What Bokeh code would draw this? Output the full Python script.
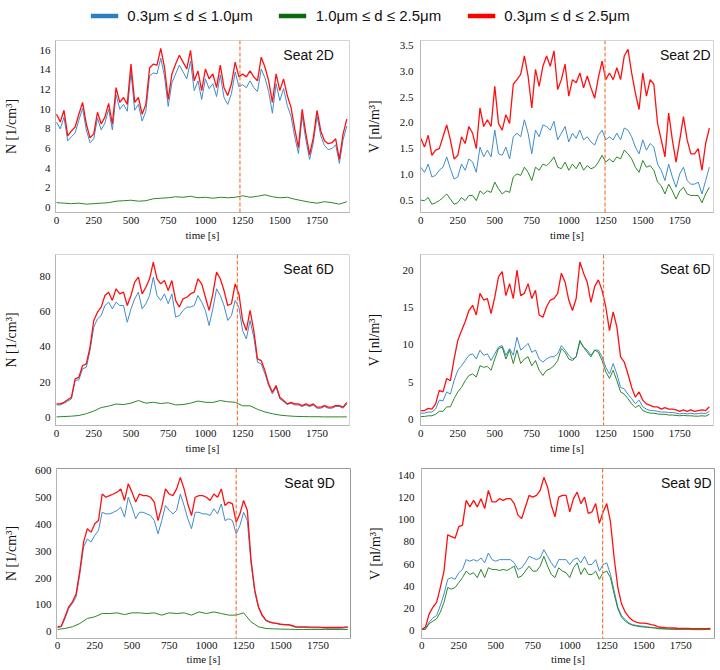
from bokeh.plotting import figure
from bokeh.models import FixedTicker, Span, Label, Legend, LegendItem, Range1d, PrintfTickFormatter
from bokeh.layouts import column, row
from bokeh.embed import file_html
from bokeh.resources import INLINE

# ---------------- data ----------------
time25 = list(range(0, 1951, 25))
time50 = list(range(0, 1951, 50))
x_ticks = [0, 250, 500, 750, 1000, 1250, 1500, 1750]
series_labels = ["0.3\u03bcm \u2264 d \u2264 1.0\u03bcm", "1.0\u03bcm \u2264 d \u2264 2.5\u03bcm", "0.3\u03bcm \u2264 d \u2264 2.5\u03bcm"]
seats = ["Seat 2D", "Seat 2D", "Seat 6D", "Seat 6D", "Seat 9D", "Seat 9D"]
door_times = [1232, 1245, 1215, 1235, 1200, 1222]

# Seat 2D, number concentration N [1/cm3]
n2d_red = [9.5, 8.7, 9.9, 7.3, 7.8, 8.2, 9.5, 10.7, 8.5, 7.1, 7.5, 9.7, 8.5, 9.2, 10.6, 8.5, 12.2, 10.7, 11.2, 10.5,
           14.6, 10.7, 11.2, 9.5, 10.5, 14.2, 14.6, 14.5, 16.2, 14.3, 11.0, 13.6, 14.6, 15.5, 14.8, 14.1, 16.0, 12.9, 13.9, 11.9,
           14.1, 13.1, 13.6, 12.2, 14.5, 12.2, 11.4, 12.6, 14.8, 13.3, 13.6, 13.3, 13.9, 13.3, 12.9, 15.3, 14.3, 12.9, 10.7, 13.6,
           11.9, 13.1, 11.4, 10.2, 8.0, 6.1, 10.0, 7.5, 5.4, 7.1, 9.9, 7.8, 6.8, 6.5, 6.6, 7.0, 4.9, 7.5, 9.0]
n2d_blue = [8.7, 8.0, 9.2, 6.8, 7.2, 7.6, 8.9, 10.1, 7.9, 6.6, 7.0, 9.1, 7.9, 8.6, 10.0, 7.9, 11.5, 10.0, 10.5, 9.8,
            13.8, 9.9, 10.5, 8.8, 9.8, 13.4, 13.7, 13.6, 15.2, 13.4, 10.3, 12.7, 13.6, 14.5, 13.8, 13.1, 14.9, 11.9, 12.9, 11.0,
            13.1, 12.1, 12.6, 11.3, 13.5, 11.2, 10.5, 11.6, 13.8, 12.3, 12.5, 12.2, 12.9, 12.2, 11.8, 14.1, 13.2, 11.8, 9.6, 12.6,
            10.9, 12.1, 10.4, 9.3, 7.2, 5.5, 9.3, 6.9, 4.9, 6.6, 9.3, 7.3, 6.3, 5.9, 6.0, 6.4, 4.5, 6.9, 8.3]
n2d_green = [0.5, 0.45, 0.4, 0.45, 0.35, 0.4, 0.45, 0.5, 0.65, 0.7, 0.75, 0.65, 0.7, 0.9, 0.95, 1.0, 1.1, 1.05, 1.15, 1.0,
             1.05, 0.95, 1.05, 1.0, 1.05, 1.2, 1.05, 1.15, 1.3, 1.1, 1.0, 1.05, 0.85, 0.7, 0.55, 0.45, 0.6, 0.5, 0.35, 0.6]

# Seat 2D, volume concentration V [nl/m3]
v2d_red = [1.7, 1.53, 1.76, 1.37, 1.47, 1.5, 1.73, 1.96, 1.67, 1.3, 1.37, 1.73, 1.6, 1.93, 1.8, 1.5, 2.29, 1.93, 2.06, 1.93,
           2.71, 1.99, 1.86, 2.16, 1.99, 2.75, 2.84, 2.94, 3.3, 2.91, 2.29, 3.04, 2.71, 3.1, 3.3, 3.1, 3.4, 2.65, 2.84, 3.14,
           2.52, 2.84, 2.78, 2.97, 2.68, 2.91, 2.68, 2.48, 2.88, 3.2, 2.84, 2.97, 2.84, 3.07, 2.84, 3.3, 3.43, 2.97, 2.58, 2.26,
           2.97, 2.52, 2.84, 2.75, 1.99, 1.67, 1.34, 2.19, 1.67, 1.24, 1.67, 2.12, 1.67, 1.4, 1.4, 1.5, 1.08, 1.6, 1.9]
v2d_blue = [1.14, 1.04, 1.2, 0.95, 0.98, 1.08, 1.14, 1.34, 1.11, 0.91, 0.95, 1.2, 1.08, 1.3, 1.24, 1.04, 1.53, 1.34, 1.47, 1.34,
            1.86, 1.4, 1.37, 1.53, 1.3, 1.73, 1.8, 1.73, 2.06, 1.8, 1.4, 1.86, 1.73, 1.96, 1.93, 1.86, 2.03, 1.67, 1.8, 1.93,
            1.63, 1.8, 1.7, 1.86, 1.67, 1.73, 1.63, 1.57, 1.76, 1.86, 1.67, 1.73, 1.67, 1.8, 1.67, 1.9, 1.86, 1.73, 1.53, 1.4,
            1.67, 1.47, 1.6, 1.53, 1.2, 1.08, 0.88, 1.2, 0.95, 0.75, 1.01, 1.14, 0.88, 0.81, 0.81, 0.85, 0.62, 0.88, 1.14]
v2d_green = [0.5, 0.49, 0.55, 0.42, 0.45, 0.49, 0.55, 0.62, 0.52, 0.42, 0.45, 0.55, 0.49, 0.59, 0.59, 0.49, 0.68, 0.62, 0.68, 0.65,
             0.85, 0.72, 0.62, 0.68, 0.65, 0.95, 1.01, 0.98, 1.14, 1.04, 0.88, 1.14, 1.08, 1.2, 1.17, 1.24, 1.34, 1.14, 1.11, 1.24,
             1.08, 1.2, 1.11, 1.24, 1.08, 1.17, 1.11, 1.14, 1.24, 1.37, 1.24, 1.3, 1.24, 1.34, 1.3, 1.47, 1.4, 1.3, 1.14, 1.04,
             1.27, 1.14, 1.17, 1.08, 0.85, 0.78, 0.62, 0.81, 0.68, 0.52, 0.68, 0.75, 0.62, 0.59, 0.59, 0.59, 0.45, 0.62, 0.75]

# Seat 6D
n6d_red = [7.6, 7.6, 8.5, 9.9, 11.4, 21.8, 22.7, 29.4, 30.3, 39.8, 55, 59.7, 62.6, 69.2, 71.1, 66.4, 73, 70.1, 71.1, 63.5,
           69.2, 76.8, 79.6, 70.1, 73.9, 78.7, 88.2, 78.7, 75.8, 77.7, 72, 77.7, 66.4, 62.6, 67.3, 68.2, 70.1, 71.1, 78.7, 75.8,
           68.2, 60.7, 70.1, 82.5, 78.7, 72, 63.5, 64.5, 75.8, 70.1, 55, 49.3, 60.7, 49.3, 33.2, 32.2, 26.5, 19, 14.2, 18,
           11.4, 9.5, 7.6, 8.5, 7.6, 7.6, 6.6, 7.6, 6.6, 7.6, 5.7, 5.7, 6.6, 5.7, 5.7, 6.6, 6.6, 5.7, 8.5]
n6d_blue = [7.0, 7.0, 8.0, 9.1, 10.4, 20.9, 21.2, 27.5, 28.4, 37.9, 51.2, 55.9, 57.8, 63.5, 65.4, 61.6, 65.4, 63.5, 63.5, 54,
            61.6, 67.3, 71.1, 61.6, 64.5, 69.2, 79.6, 69.2, 66.4, 70.1, 64.5, 70.1, 56.9, 57.8, 60.7, 62.6, 62.6, 63.5, 69.2, 65.4,
            60.7, 52.1, 61.6, 73, 69.2, 63.5, 55, 57.8, 66.4, 62.6, 49.3, 44.5, 55, 45.5, 31.3, 30.3, 24.6, 18, 13.3, 17.1,
            10.4, 8.9, 7.2, 8, 7, 7, 6.1, 7, 6.1, 6.8, 5.1, 5.1, 6.1, 5.1, 5.1, 6.1, 6.1, 5.1, 7.6]
n6d_green = [0.2, 0.4, 0.6, 1.0, 2.0, 3.5, 5.5, 6.3, 7.5, 7.2, 8.0, 9.5, 8.0, 8.5, 7.8, 8.2, 7.0, 7.2, 8.0, 9.2,
             8.5, 8.4, 9.5, 8.8, 8.5, 6.5, 6.5, 4.5, 3.0, 2.0, 1.2, 0.8, 0.5, 0.4, 0.3, 0.3, 0.2, 0.2, 0.2, 0.2]
v6d_red = [1.2, 1.2, 1.5, 1.4, 2.1, 3.9, 3.7, 5.5, 5.2, 8.1, 10.6, 11.9, 13.1, 14.6, 15.3, 14, 16.9, 16, 16.2, 14.2,
           16.4, 19.1, 19.8, 16.6, 18.2, 16.2, 20, 16.6, 16.9, 18.2, 16.2, 17.3, 14, 13.7, 15.1, 16, 16.2, 16.9, 19.6, 18.4,
           16, 14.6, 16.2, 21.1, 19.6, 18.4, 15.7, 17.8, 18.7, 17.3, 15.1, 11.9, 14.4, 12.4, 8.4, 7.7, 6.1, 4.3, 3, 3.7,
           2.6, 2.1, 1.9, 1.7, 1.7, 1.4, 1.6, 1.4, 1.4, 1.3, 1.1, 1.3, 1.1, 1.3, 1.1, 1.2, 1.3, 1.2, 1.7]
v6d_blue = [0.85, 0.85, 1.0, 1.0, 1.4, 2.6, 2.5, 3.7, 3.4, 5.2, 6.6, 7.2, 7.9, 8.6, 8.8, 8.1, 9.3, 8.6, 8.8, 7.9,
            8.8, 9.7, 9.9, 8.6, 9.5, 8.6, 11, 9.3, 9.7, 10.2, 9, 9.3, 8.1, 7.7, 8.1, 8.4, 8.4, 8.8, 9.9, 9.3,
            8.6, 8.1, 8.4, 10.4, 9.7, 9.3, 8.6, 9.3, 9.3, 8.4, 7, 6.1, 7.5, 6.1, 4.3, 4.1, 3.4, 2.8, 2.1, 2.6,
            1.7, 1.4, 1.2, 1.2, 1.1, 1.0, 1.0, 0.95, 0.95, 0.85, 0.75, 0.85, 0.75, 0.85, 0.75, 0.8, 0.85, 0.8, 1.1]
v6d_green = [0.4, 0.4, 0.5, 0.5, 0.7, 1.1, 1.1, 1.7, 1.7, 2.8, 3.7, 4.3, 5.2, 5.9, 6.1, 5.7, 7.2, 7, 7.1, 6.6,
             8.1, 9.5, 9.7, 8.1, 9.3, 7.5, 9.3, 7.5, 8.1, 8.4, 7.2, 7.9, 6.6, 5.9, 6.6, 6.8, 7.2, 7.9, 9.5, 9,
             8.1, 7.9, 8.4, 10.6, 9.7, 9, 8.4, 9.3, 9, 7.9, 6.4, 5.5, 6.6, 5.2, 3.7, 3.4, 2.8, 2.1, 1.6, 1.9,
             1.2, 1, 0.85, 0.85, 0.75, 0.7, 0.7, 0.6, 0.6, 0.55, 0.5, 0.55, 0.5, 0.5, 0.45, 0.45, 0.5, 0.45, 0.7]

# Seat 9D
n9d_red = [18.6, 21, 55.7, 92.8, 111, 142, 229, 334, 384, 371, 402, 414, 513, 501, 507, 513, 520, 532, 489, 551,
           520, 483, 513, 507, 507, 501, 483, 414, 464, 532, 513, 507, 532, 575, 532, 476, 433, 501, 507, 507,
           501, 489, 513, 501, 532, 470, 483, 476, 408, 439, 489, 452, 266, 155, 93, 62, 43, 37, 33, 31,
           28, 27, 27, 23.5, 18.6, 18.6, 18.6, 18, 17.3, 17.3, 17.3, 16.5, 16, 16, 16, 16, 16, 17, 18.6]
n9d_blue = [16, 18.6, 49.5, 86.6, 105, 130, 216, 315, 346, 334, 359, 377, 445, 439, 439, 445, 452, 464, 427, 501,
            464, 421, 445, 445, 439, 433, 414, 365, 414, 470, 452, 439, 452, 513, 470, 421, 384, 445, 445, 439,
            439, 433, 458, 439, 476, 414, 421, 414, 365, 396, 445, 414, 254, 148, 89, 58, 41, 35, 32, 30,
            27, 26, 25, 21, 17, 16.5, 16, 15.5, 15, 15, 15, 14.5, 13.6, 13.6, 13.6, 13.6, 13.6, 14.5, 16]
n9d_green = [8.7, 12.4, 18.6, 31, 49.5, 55.7, 68, 68, 70.5, 64, 70.5, 70.5, 68, 70.5, 62, 70.5, 68, 70.5, 62, 74,
             68, 74, 68, 62, 62, 70.5, 37, 18.6, 12.4, 11, 10, 9.5, 8.7, 8.7, 8.7, 8.7, 8.7, 8.7, 8.7, 8.7]
v9d_red = [0.9, 3, 14.9, 20.9, 25.3, 38.7, 53.6, 86.4, 84.9, 83.4, 93.8, 95.3, 117.7, 111.7, 117.7, 111.7, 119.2, 110.2, 126.6, 116.2,
           116.2, 119.2, 117.7, 119.2, 119.2, 114.7, 104.3, 101.3, 111.7, 122.1, 120.6, 122.1, 126.6, 138.5, 129.6, 113.2, 102.8, 120.6, 122.1, 122.1,
           107.2, 119.2, 125.1, 114.7, 120.6, 105.8, 107.2, 114.7, 96.8, 107.2, 114.7, 98.3, 65.5, 38.7, 23.8, 16.4, 11.9, 8.9, 7.4, 6.6,
           6.6, 6, 5.1, 4.5, 3, 2.7, 2.4, 2.2, 2.1, 1.9, 1.8, 1.8, 1.8, 1.6, 1.5, 1.5, 1.5, 1.6, 1.8]
v9d_blue = [0.6, 1.5, 7.4, 11.3, 13.4, 22.3, 32.8, 46.2, 47.7, 46.2, 52.1, 55.1, 64, 62.6, 64, 62.6, 65.5, 61.1, 70, 64,
            62.6, 64, 64, 64, 64, 61.1, 55.1, 56.6, 61.1, 67, 65.5, 64, 65.5, 73, 67, 61.1, 56.6, 64, 64, 64,
            59.6, 64, 65.5, 61.1, 67, 59.6, 59.6, 64, 53.6, 59.6, 61.1, 50.6, 35.7, 20.9, 13.4, 9.5, 6.6, 5.1, 4.5, 3.9,
            3.6, 3, 2.7, 2.4, 1.8, 1.6, 1.5, 1.3, 1.2, 1.2, 1.2, 1.2, 1.2, 1.0, 0.9, 0.9, 0.9, 1.0, 1.2]
v9d_green = [0.6, 0.9, 6, 8.3, 10.4, 16.4, 25.3, 38.7, 37.2, 38.7, 43.2, 47.7, 53.6, 50.6, 52.1, 47.7, 55.1, 47.7, 56.6, 55.1,
             55.1, 54.2, 55.1, 54.2, 56, 58.1, 47.7, 49.2, 53.6, 58.1, 53.6, 53.6, 58.1, 67, 58.1, 50.6, 47.7, 56.6, 53.6, 52.1,
             47.7, 56.6, 61.1, 50.6, 56.6, 50.6, 50.6, 53.6, 46.2, 52.1, 53.6, 47.7, 32.8, 19.4, 11.9, 8.3, 6, 4.5, 3.9, 3.3,
             3, 2.7, 2.4, 2.1, 1.5, 1.3, 1.2, 1.0, 0.9, 0.9, 0.9, 0.9, 0.9, 0.7, 0.6, 0.6, 0.6, 0.8, 0.9]

n_ticks_2d = [0, 2, 4, 6, 8, 10, 12, 14, 16]
v_ticks_2d = [0.5, 1.0, 1.5, 2.0, 2.5, 3.0, 3.5]
n_ticks_6d = [0, 20, 40, 60, 80]
v_ticks_6d = [0, 5, 10, 15, 20]
n_ticks_9d = [0, 100, 200, 300, 400, 500, 600]
v_ticks_9d = [0, 20, 40, 60, 80, 100, 120, 140]

# ---------------- style ----------------
BLUE = "#3f8ccc"
GREEN = "#2b872b"
RED = "#ff1010"
LEG_COLORS = ["#2f7dc0", "#0d6a0d", "#ff0000"]
SERIF = "Liberation Serif"
SANS = "Liberation Sans"

panels = [
    dict(red=n2d_red, blue=n2d_blue, green=n2d_green, gt=time50, yr=(-0.5, 17.0), ticks=n_ticks_2d, ylab="N [1/cm\u00b3]", fmt=None, lstand=18),
    dict(red=v2d_red, blue=v2d_blue, green=v2d_green, gt=time25, yr=(0.26, 3.6), ticks=v_ticks_2d, ylab="V [nl/m\u00b3]", fmt="%.1f", lstand=15),
    dict(red=n6d_red, blue=n6d_blue, green=n6d_green, gt=time50, yr=(-4.7, 92.5), ticks=n_ticks_6d, ylab="N [1/cm\u00b3]", fmt=None, lstand=18),
    dict(red=v6d_red, blue=v6d_blue, green=v6d_green, gt=time25, yr=(-0.8, 22.1), ticks=v_ticks_6d, ylab="V [nl/m\u00b3]", fmt=None, lstand=18),
    dict(red=n9d_red, blue=n9d_blue, green=n9d_green, gt=time50, yr=(-25, 608), ticks=n_ticks_9d, ylab="N [1/cm\u00b3]", fmt=None, lstand=13),
    dict(red=v9d_red, blue=v9d_blue, green=v9d_green, gt=time25, yr=(-7.4, 146.5), ticks=v_ticks_9d, ylab="V [nl/m\u00b3]", fmt=None, lstand=12),
]

row_frame_h = [172, 171, 170]
row_top = [10, 8, 8]
row_bottom = [34, 35, 30]


def make_panel(i):
    d = panels[i]
    col = i % 2
    r = i // 2
    left = col == 0
    xr = (-7, 1968) if left else (-2, 1978)
    p = figure(frame_width=294 if left else 293, frame_height=row_frame_h[r],
               x_range=Range1d(*xr), y_range=Range1d(*d["yr"]),
               output_backend="svg", toolbar_location=None,
               min_border_left=54 if left else 59, min_border_right=12 if left else 8,
               min_border_top=row_top[r], min_border_bottom=row_bottom[r])
    p.background_fill_color = "white"
    p.border_fill_color = "white"
    p.outline_line_color = "#d4d4d4" if r < 2 else "#9a9a9a"
    p.xgrid.visible = False
    p.ygrid.visible = False
    p.xaxis.ticker = FixedTicker(ticks=x_ticks)
    p.yaxis.ticker = FixedTicker(ticks=d["ticks"])
    if d["fmt"]:
        p.yaxis.formatter = PrintfTickFormatter(format=d["fmt"])
    p.xaxis.axis_label = "time [s]"
    p.yaxis.axis_label = d["ylab"]
    for ax in (p.xaxis[0], p.yaxis[0]):
        ax.major_tick_line_color = None
        ax.minor_tick_line_color = None
        ax.major_tick_out = 0
        ax.major_tick_in = 0
        ax.minor_tick_out = 0
        ax.minor_tick_in = 0
        ax.axis_line_color = "#b5b5b5"
        ax.major_label_text_font = SERIF
        ax.major_label_text_font_size = "11px"
        ax.major_label_text_color = "#111111"
        ax.axis_label_text_font = SERIF
        ax.axis_label_text_font_style = "normal"
        ax.axis_label_text_color = "#111111"
    p.xaxis.axis_label_text_font_size = "11px"
    p.yaxis.axis_label_text_font_size = "14px"
    p.xaxis.major_label_standoff = 4 if r < 2 else 3
    p.xaxis.axis_label_standoff = 2 if r < 2 else 1
    p.yaxis.major_label_standoff = 5 if left else 7
    p.yaxis.axis_label_standoff = d["lstand"]

    p.line(time25, d["blue"], line_color=BLUE, line_width=1.0)
    p.line(d["gt"], d["green"], line_color=GREEN, line_width=1.0)
    p.line(time25, d["red"], line_color=RED, line_width=1.3)

    p.add_layout(Span(location=door_times[i], dimension="height", line_color="#f27a3e",
                      line_dash="4 2", line_width=1.2))
    xs, xe = xr
    ys, ye = d["yr"]
    lx = xs + (0.947 if left else 0.99) * (xe - xs)
    ly = ye - 0.085 * (ye - ys)
    p.add_layout(Label(x=lx, y=ly, text=seats[i], text_align="right", text_baseline="middle",
                       text_font=SANS, text_font_size="14px", text_color="#111111"))
    return p


figs = [make_panel(i) for i in range(6)]

# legend strip
lf = figure(width=720, height=30, output_backend="svg", toolbar_location=None,
            x_axis_type=None, y_axis_type=None, x_range=Range1d(0, 1), y_range=Range1d(0, 1),
            min_border=0, min_border_left=0, min_border_right=0, min_border_top=0, min_border_bottom=0)
lf.outline_line_color = None
lf.xgrid.visible = False
lf.ygrid.visible = False
items = []
for lab, c in zip(series_labels, LEG_COLORS):
    rr = lf.line([5, 6], [5, 6], line_color=c, line_width=4.5)
    items.append(LegendItem(label=lab, renderers=[rr]))
leg = Legend(items=items, orientation="horizontal", location="center",
             glyph_width=28, glyph_height=12, label_standoff=9, spacing=26,
             label_text_font=SANS, label_text_font_size="15px",
             label_text_color="#111111", border_line_color=None, background_fill_alpha=0,
             padding=0, margin=0)
lf.add_layout(leg, "center")

layout = column(lf, row(figs[0], figs[1], spacing=0), row(figs[2], figs[3], spacing=0),
                row(figs[4], figs[5], spacing=0), spacing=0)

open("out.html", "w").write(file_html(layout, INLINE))
